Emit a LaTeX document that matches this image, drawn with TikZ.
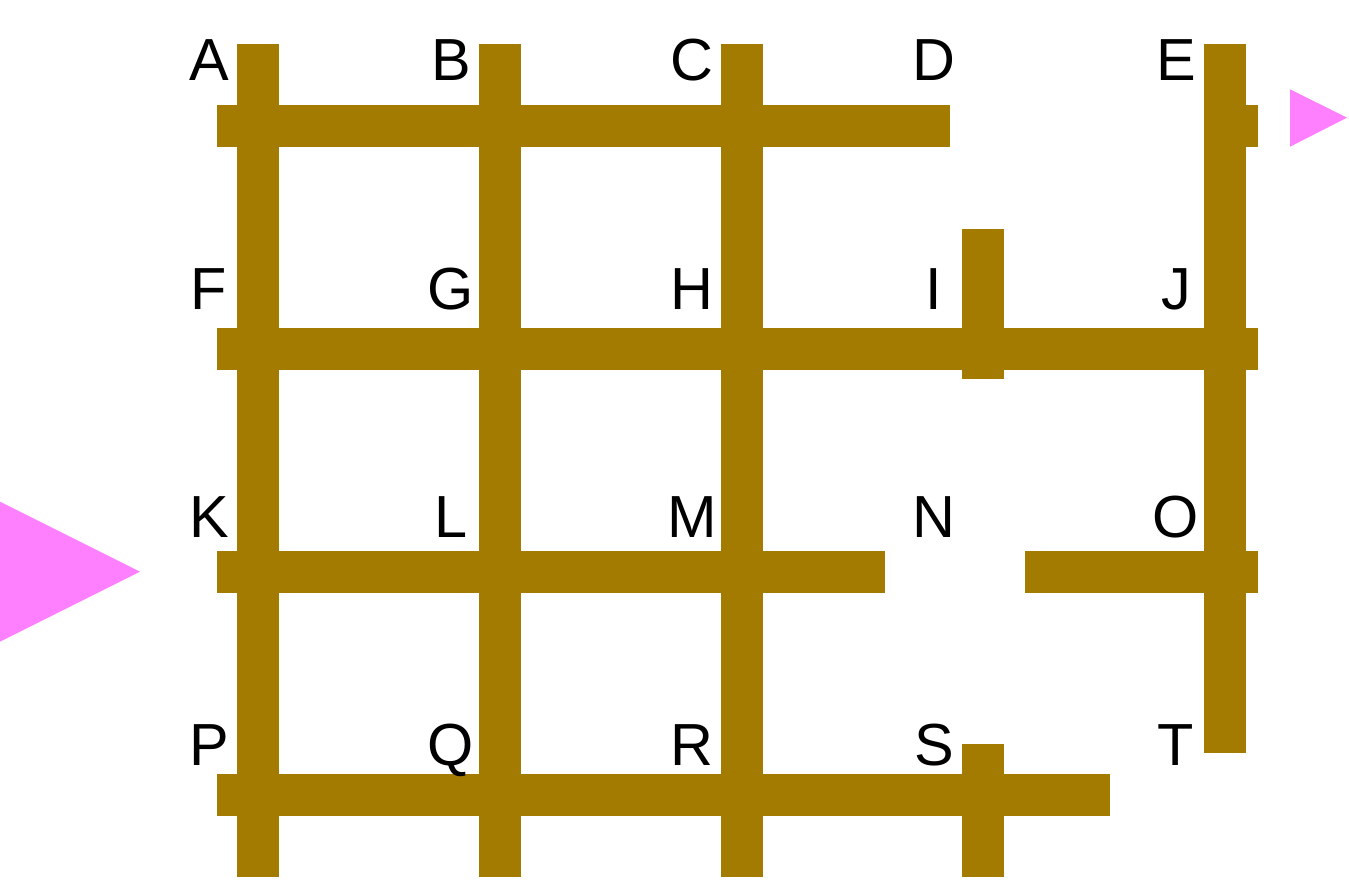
\documentclass[tikz,border=0pt]{standalone}
\usepackage{fontspec}
\setmainfont{Liberation Sans}
\definecolor{barc}{RGB}{163,123,0}
\definecolor{pinkc}{RGB}{255,128,255}
\begin{document}
\begin{tikzpicture}[x=1pt,y=-1pt,
  bar/.style={fill=barc,draw=none},
  tri/.style={fill=pinkc,draw=none},
  lbl/.style={anchor=base,inner sep=0pt,font=\fontsize{59.4}{60}\selectfont}]
\useasboundingbox (0,0) rectangle (1349,879);
% vertical bars
\path[bar] (237,44) rectangle (279,877);
\path[bar] (479,44) rectangle (521,877);
\path[bar] (721,44) rectangle (763,877);
\path[bar] (962,229) rectangle (1004,379);
\path[bar] (962,744) rectangle (1004,877);
\path[bar] (1204,44) rectangle (1246,752.7);
% horizontal bars
\path[bar] (217,105) rectangle (950,147);
\path[bar] (1204,105) rectangle (1258,147);
\path[bar] (217,327.7) rectangle (1258,369.7);
\path[bar] (217,550.7) rectangle (885,592.7);
\path[bar] (1025,550.7) rectangle (1258,592.7);
\path[bar] (217,774) rectangle (1110,816);
% triangles
\path[tri] (0,501.7) -- (140,571.7) -- (0,641.7) -- cycle;
\path[tri] (1290,89.3) -- (1347,117.7) -- (1290,146.7) -- cycle;
% labels
\node[lbl] (A) at (209,80) {A};
\node[lbl] (B) at (451,80) {B};
\node[lbl] (C) at (692,80) {C};
\node[lbl] (D) at (934,80) {D};
\node[lbl] (E) at (1176,80) {E};
\node[lbl] (F) at (209,309.3) {F};
\node[lbl] (G) at (451,309.3) {G};
\node[lbl] (H) at (692,309.3) {H};
\node[lbl] (I) at (934,309.3) {I};
\node[lbl] (J) at (1176,309.3) {J};
\node[lbl] (K) at (209,537.3) {K};
\node[lbl] (L) at (451,537.3) {L};
\node[lbl] (M) at (692,537.3) {M};
\node[lbl] (N) at (934,537.3) {N};
\node[lbl] (O) at (1176,537.3) {O};
\node[lbl] (P) at (209,765) {P};
\node[lbl] (Q) at (451,765) {Q};
\node[lbl] (R) at (692,765) {R};
\node[lbl] (S) at (934,765) {S};
\node[lbl] (T) at (1176,765) {T};
\end{tikzpicture}
\end{document}
